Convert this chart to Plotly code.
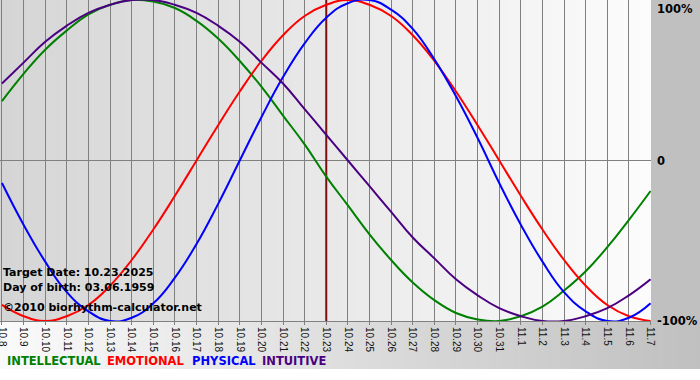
import plotly.graph_objects as go

# ---- data ----
dates = ["10.8", "10.9", "10.10", "10.11", "10.12", "10.13", "10.14", "10.15", "10.16",
         "10.17", "10.18", "10.19", "10.20", "10.21", "10.22", "10.23", "10.24", "10.25",
         "10.26", "10.27", "10.28", "10.29", "10.30", "10.31", "11.1", "11.2", "11.3",
         "11.4", "11.5", "11.6", "11.7"]
target_label = "10.23"

intellectual = [0.37, 0.54, 0.69, 0.81, 0.91, 0.97, 1.00, 0.99, 0.95, 0.87, 0.76, 0.62, 0.46,
                0.28, 0.10, -0.10, -0.28, -0.46, -0.62, -0.76, -0.87, -0.95, -0.99, -1.00,
                -0.97, -0.91, -0.81, -0.69, -0.54, -0.37, -0.19]
emotional = [-0.90, -0.97, -1.00, -0.97, -0.90, -0.78, -0.62, -0.43, -0.22, 0.00, 0.22, 0.43,
             0.62, 0.78, 0.90, 0.97, 1.00, 0.97, 0.90, 0.78, 0.62, 0.43, 0.22, 0.00, -0.22,
             -0.43, -0.62, -0.78, -0.90, -0.97, -1.00]
physical = [-0.14, -0.40, -0.63, -0.82, -0.94, -1.00, -0.98, -0.89, -0.73, -0.52, -0.27, 0.00,
            0.27, 0.52, 0.73, 0.89, 0.98, 1.00, 0.94, 0.82, 0.63, 0.40, 0.14, -0.14, -0.40,
            -0.63, -0.82, -0.94, -1.00, -0.98, -0.89]
intuitive = [0.48, 0.61, 0.74, 0.84, 0.92, 0.97, 1.00, 1.00, 0.97, 0.92, 0.84, 0.74, 0.61, 0.48,
             0.32, 0.16, 0.00, -0.16, -0.32, -0.48, -0.61, -0.74, -0.84, -0.92, -0.97, -1.00,
             -1.00, -0.97, -0.92, -0.84, -0.74]

series_names = ["INTELLECTUAL", "EMOTIONAL", "PHYSICAL", "INTUITIVE"]
series_colors = ["#008000", "#ff0000", "#0000ff", "#4b0082"]
info_lines = ["Target Date: 10.23.2025", "Day of birth: 03.06.1959", "©2010 biorhythm-calculator.net"]
y_labels = ["100%", "0", "-100%"]

# ---- layout geometry ----
W, H = 700, 380
PW, PH = 651, 321  # plot area in px
xs = list(range(len(dates)))
tidx = dates.index(target_label)

def px_x(p):
    return p / PW

def px_y(p):
    return (PH - p) / PH

fig = go.Figure()

# target-date line (drawn first, under the curves)
fig.add_trace(go.Scatter(x=[tidx, tidx], y=[-1, 1], mode="lines",
                         line=dict(color="#7a1010", width=2), hoverinfo="skip", showlegend=False))

for name, vals, col in zip(series_names, [intellectual, emotional, physical, intuitive], series_colors):
    fig.add_trace(go.Scatter(x=xs, y=vals, mode="lines", name=name,
                             line=dict(color=col, width=2, shape="spline", smoothing=1.3),
                             showlegend=False, cliponaxis=False))

shapes = []
# plot-area horizontal gradient
N = 120
for i in range(N):
    c = int(round(213 + (252 - 213) * i / (N - 1)))
    shapes.append(dict(type="rect", xref="paper", yref="paper",
                       x0=i / N, x1=(i + 1) / N + 0.001, y0=0, y1=1,
                       fillcolor=f"rgb({c},{c},{c})", line=dict(width=0), layer="below"))
# right strip
shapes.append(dict(type="rect", xref="paper", yref="paper", x0=1, x1=px_x(W), y0=0, y1=1,
                   fillcolor="rgb(192,192,192)", line=dict(width=0), layer="below"))
# bottom strip gradient
M = 120
for i in range(M):
    c = int(round(250 + (192 - 250) * i / (M - 1)))
    shapes.append(dict(type="rect", xref="paper", yref="paper",
                       x0=px_x(W * i / M), x1=px_x(W * (i + 1) / M) + 0.001,
                       y0=px_y(369), y1=0,
                       fillcolor=f"rgb({c},{c},{c})", line=dict(width=0), layer="below"))

annotations = []
for txt, yp in zip(info_lines, [272, 287, 307]):
    annotations.append(dict(text=txt, xref="paper", yref="paper", x=0, y=px_y(yp),
                            xanchor="left", yanchor="middle", xshift=1, showarrow=False,
                            font=dict(family="DejaVu Sans", size=11, color="black", weight="bold")))
for txt, yp, ya in zip(y_labels, [1, 0.5, 0], ["top", "middle", "middle"]):
    annotations.append(dict(text=txt, xref="paper", yref="paper", x=1, y=yp,
                            xanchor="left", yanchor=ya, xshift=4, showarrow=False,
                            font=dict(family="DejaVu Sans", size=11.5, color="black", weight="bold")))
for txt, col, xp in zip(series_names, series_colors, [7, 107, 192, 262]):
    annotations.append(dict(text=txt, xref="paper", yref="paper", x=px_x(xp), y=px_y(361),
                            xanchor="left", yanchor="middle", xshift=-2, showarrow=False,
                            font=dict(family="DejaVu Sans", size=11.5, color=col, weight="bold")))

fig.update_layout(
    width=W, height=H,
    margin=dict(l=0, r=W - PW, t=0, b=H - PH, pad=0, autoexpand=False),
    paper_bgcolor="white",
    plot_bgcolor="rgba(0,0,0,0)",
    shapes=shapes,
    annotations=annotations,
    showlegend=False,
    hovermode=False,
    xaxis=dict(range=[-0.09, len(dates) - 1 + 0.02], tickvals=xs, ticktext=dates,
               tickangle=90, showgrid=True, gridcolor="#808080", gridwidth=1,
               zeroline=False, ticks="outside", ticklen=3, tickcolor="#808080",
               showline=True, linecolor="#808080", linewidth=1, mirror=True,
               automargin=False, ticklabeloverflow="allow",
               tickfont=dict(family="Liberation Sans", size=10, color="#111")),
    yaxis=dict(range=[-1, 1], showgrid=False, zeroline=True, zerolinecolor="#808080",
               zerolinewidth=1, showticklabels=False, ticks="", automargin=False),
)

fig.write_html("out.html", config={"displayModeBar": False},
               post_script="document.body.style.margin='0';document.body.style.padding='0';")
